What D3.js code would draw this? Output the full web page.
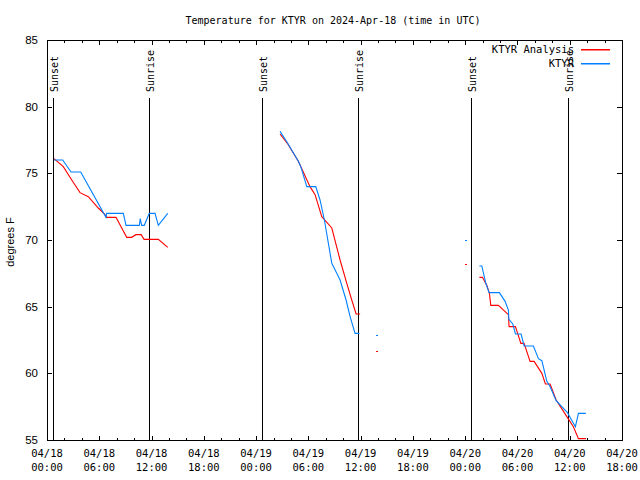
<!DOCTYPE html>
<html><head><meta charset="utf-8">
<script src="https://cdn.jsdelivr.net/npm/d3@7"></script>
<style>body{margin:0;background:#fff}svg{display:block}</style>
</head><body>
<svg id="c" width="640" height="480"></svg>
<script>
// hours after 2024-04-18 00:00 UTC, temperature in °F
const analysisSeg1 = [[0.8,76.1],[1.87,75.5],[2.84,74.5],[3.79,73.55],[4.74,73.25],[5.89,72.4],[6.66,71.9],[6.85,71.7],[7.92,71.7],[9.15,70.2],[9.72,70.2],[10.2,70.4],[10.8,70.4],[11.14,70.05],[12.78,70.05],[13.86,69.45]];
const analysisSeg2 = [[26.75,77.95],[27.59,77.25],[28.85,75.9],[30.19,74.0],[30.77,73.4],[31.54,71.75],[32.69,70.9],[33.64,68.5],[34.41,66.75],[34.98,65.5],[35.48,64.45],[35.94,64.45]];
const analysisSeg3 = [[49.63,67.2],[49.98,67.2],[50.48,66.6],[50.78,66.0],[50.94,65.1],[51.81,65.1],[52.96,64.4],[53.04,63.5],[53.77,63.5],[54.39,62.25],[54.76,62.25],[55.45,60.9],[55.91,60.9],[56.8,60.0],[57.21,59.2],[57.75,59.2],[58.44,58.0],[59.67,56.75],[60.42,56.0],[61.0,55.1],[61.88,55.1]];
const analysisDots = [[37.77,61.7],[48.03,68.2]];

const obsSeg1 = [[0.8,76.0],[1.8,76.0],[2.76,75.1],[3.87,75.1],[6.77,71.7],[6.85,72.0],[8.76,72.0],[9.07,71.1],[10.6,71.1],[10.7,71.6],[10.87,71.1],[11.17,71.1],[11.74,72.0],[12.4,72.0],[12.78,71.1],[13.86,72.0]];
const obsSeg2 = [[26.75,78.15],[27.59,77.3],[28.85,75.9],[29.13,75.5],[29.82,74.0],[30.85,74.0],[31.34,73.0],[31.84,71.5],[32.69,68.25],[33.26,67.5],[33.64,67.0],[34.33,65.5],[34.79,64.25],[35.36,63.0],[35.86,63.0]];
const obsSeg3 = [[49.63,68.05],[49.91,68.05],[50.37,66.75],[50.75,66.05],[51.93,66.05],[52.58,65.4],[52.96,64.75],[53.01,64.05],[53.47,63.7],[53.77,62.95],[54.42,62.95],[54.76,62.05],[55.83,62.05],[56.41,61.1],[56.8,60.95],[57.06,60.25],[57.37,59.4],[57.75,59.0],[58.44,57.95],[59.74,57.05],[60.13,56.6],[60.65,56.0],[61.0,57.0],[61.85,57.0]];
const obsDots = [[37.77,62.9],[48.03,70.0]];

const sunEvents = [["Sunset",0.72],["Sunrise",11.75],["Sunset",24.72],["Sunrise",35.74],["Sunset",48.72],["Sunrise",59.8]];
const yTicks = [55,60,65,70,75,80,85];
const titleText = "Temperature for KTYR on 2024-Apr-18 (time in UTC)";
const seriesNames = ["KTYR Analysis","KTYR"];
const seriesColors = ["#ff0000","#0080ff"];

const t0 = Date.UTC(2024,3,18,0,0);
const toDate = h => new Date(t0 + h*3600000);
const L=47,R=622,T=40,B=440;
const mono = "'DejaVu Sans Mono', 'Liberation Mono', monospace";
const sans = "'Liberation Sans', 'DejaVu Sans', sans-serif";

const x = d3.scaleUtc().domain([toDate(0), toDate(66)]).range([L,R]);
const y = d3.scaleLinear().domain([55,85]).range([B,T]);
const svg = d3.select("#c");

// frame
svg.append("rect").attr("x",L+0.5).attr("y",T+0.5).attr("width",R-L).attr("height",B-T)
  .attr("fill","none").attr("stroke","#000").attr("stroke-width",1).attr("shape-rendering","crispEdges");

// x ticks
const majors = x.ticks(d3.utcHour.every(6));
const minors = x.ticks(d3.utcHour.every(2));
const g = svg.append("g").attr("stroke","#000").attr("stroke-width",1).attr("shape-rendering","crispEdges");
minors.forEach(d=>{
  const xx = Math.round(x(d))+0.5;
  const len = (d.getUTCHours()%6===0)?4.5:2.5;
  g.append("line").attr("x1",xx).attr("x2",xx).attr("y1",B).attr("y2",B-len);
  g.append("line").attr("x1",xx).attr("x2",xx).attr("y1",T).attr("y2",T+len);
});
yTicks.forEach(v=>{
  const yy = Math.round(y(v))+0.5;
  g.append("line").attr("x1",L).attr("x2",L+5).attr("y1",yy).attr("y2",yy);
  g.append("line").attr("x1",R).attr("x2",R-5).attr("y1",yy).attr("y2",yy);
});

// x labels
const fmtD = d3.utcFormat("%m/%d"), fmtT = d3.utcFormat("%H:%M");
majors.forEach(d=>{
  const t = svg.append("text").attr("x",x(d)).attr("text-anchor","middle")
    .attr("font-family",mono).attr("font-size",10.5).attr("fill","#000");
  t.append("tspan").attr("x",x(d)).attr("y",457).text(fmtD(d));
  t.append("tspan").attr("x",x(d)).attr("y",471).text(fmtT(d));
});
// y labels
yTicks.forEach(v=>{
  svg.append("text").attr("x",38).attr("y",y(v)+4).attr("text-anchor","end")
    .attr("font-family",sans).attr("font-size",11.5).attr("fill","#000").text(v);
});
svg.append("text").attr("transform","translate(14,242) rotate(-90)").attr("text-anchor","middle")
  .attr("font-family",sans).attr("font-size",11).attr("fill","#000").text("degrees F");

// title
svg.append("text").attr("x",333).attr("y",24).attr("text-anchor","middle")
  .attr("font-family",mono).attr("font-size",10).attr("fill","#000").text(titleText);

// sun lines
sunEvents.forEach(([name,h])=>{
  const xx = Math.round(x(toDate(h)))+0.5;
  svg.append("line").attr("x1",xx).attr("x2",xx).attr("y1",98).attr("y2",B)
    .attr("stroke","#000").attr("stroke-width",1).attr("shape-rendering","crispEdges");
  svg.append("text").attr("transform",`translate(${xx+4},92) rotate(-90)`).attr("text-anchor","start")
    .attr("font-family",mono).attr("font-size",10).attr("fill","#000").text(name);
});

// series
const line = d3.line().x(d=>x(toDate(d[0]))).y(d=>y(d[1]));
[[analysisSeg1,analysisSeg2,analysisSeg3,analysisDots,0],[obsSeg1,obsSeg2,obsSeg3,obsDots,1]].forEach(([s1,s2,s3,dots,i])=>{
  [s1,s2,s3].forEach(s=>{
    svg.append("path").datum(s).attr("d",line).attr("fill","none")
      .attr("stroke",seriesColors[i]).attr("stroke-width",1.1);
  });
  dots.forEach(d=>{
    svg.append("rect").attr("x",Math.round(x(toDate(d[0])))).attr("y",Math.round(y(d[1]))).attr("width",2).attr("height",1)
      .attr("fill",seriesColors[i]);
  });
});

// legend
seriesNames.forEach((n,i)=>{
  const yy = 49 + i*14;
  svg.append("text").attr("x",574).attr("y",yy+4).attr("text-anchor","end")
    .attr("font-family",mono).attr("font-size",10.5).attr("fill","#000").text(n);
  svg.append("rect").attr("x",581).attr("y",yy).attr("width",29).attr("height",1.5)
    .attr("fill",seriesColors[i]);
});
</script>
</body></html>
